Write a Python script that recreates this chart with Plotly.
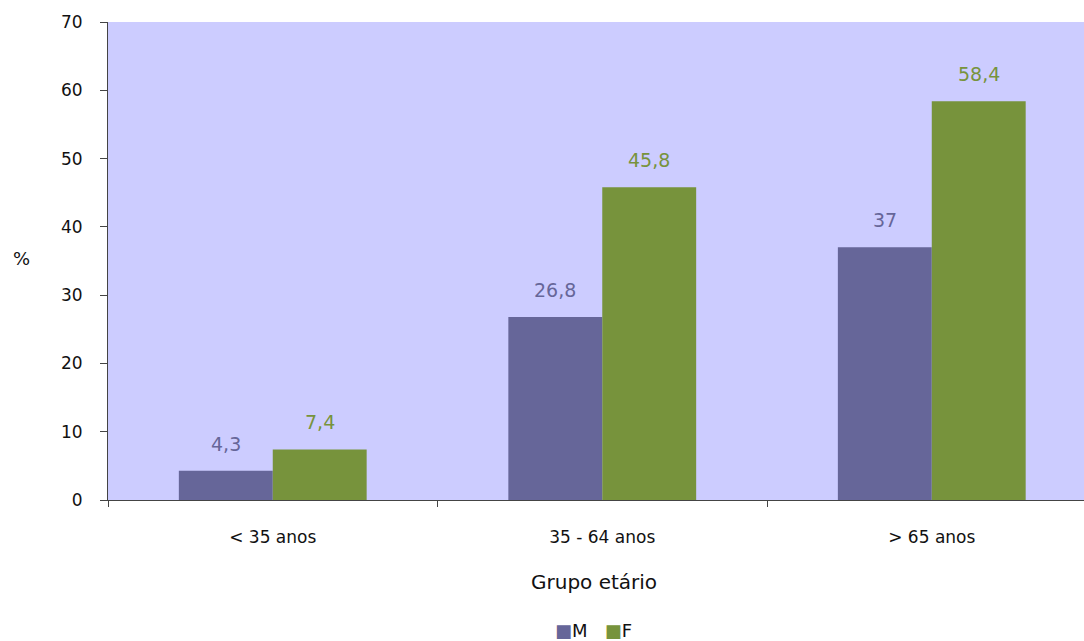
import plotly.graph_objects as go

# Age groups and prevalence (%) by sex
grupos = ["< 35 anos", "35 - 64 anos", "> 65 anos"]
valores_m = [4.3, 26.8, 37.0]
valores_f = [7.4, 45.8, 58.4]
rotulos_m = ["4,3", "26,8", "37"]
rotulos_f = ["7,4", "45,8", "58,4"]
y_ticks = [0, 10, 20, 30, 40, 50, 60, 70]

COR_M = "#666699"
COR_F = "#77933C"
FONTE = "'DejaVu Sans', sans-serif"
TEXTO = "#111111"

fig = go.Figure()
fig.add_trace(go.Bar(x=grupos, y=valores_m, name="M", marker_color=COR_M,
                     marker_line_width=0))
fig.add_trace(go.Bar(x=grupos, y=valores_f, name="F", marker_color=COR_F,
                     marker_line_width=0))

# value labels above each bar
for i, g in enumerate(grupos):
    for val, txt, cor, off in ((valores_m[i], rotulos_m[i], COR_M, -0.143),
                               (valores_f[i], rotulos_f[i], COR_F, 0.143)):
        fig.add_annotation(x=i + off, y=val, text=txt, showarrow=False,
                           xref="x", yref="y", yanchor="bottom", yshift=14,
                           font=dict(size=19, color=cor, family=FONTE))

# y-axis title, drawn horizontally
fig.add_annotation(x=-0.0885, y=0.505, xref="paper", yref="paper", text="%",
                   showarrow=False, xanchor="center", yanchor="middle",
                   font=dict(size=18, color=TEXTO, family=FONTE))
# x-axis title
fig.add_annotation(x=0.4975, y=-0.172, xref="paper", yref="paper",
                   text="Grupo etário", showarrow=False, xanchor="center",
                   yanchor="middle", font=dict(size=20, color=TEXTO, family=FONTE))

# compact legend row below the axis title
legenda = (f"<span style='color:{COR_M};font-size:18px'>■</span>M"
           f"&nbsp;&nbsp;&nbsp;"
           f"<span style='color:{COR_F};font-size:18px'>■</span>F")
fig.add_annotation(x=0.497, y=-0.274, xref="paper", yref="paper", text=legenda,
                   showarrow=False, xanchor="center", yanchor="middle",
                   font=dict(size=18, color=TEXTO, family=FONTE))

fig.update_layout(
    width=1084, height=641,
    margin=dict(l=108, r=0, t=22, b=141, autoexpand=False),
    paper_bgcolor="white",
    plot_bgcolor="#CCCCFF",
    barmode="group",
    bargap=0.43,
    bargroupgap=0,
    font=dict(family=FONTE, color=TEXTO),
    showlegend=False,
)
fig.update_xaxes(
    range=[-0.5, 2.462],
    showline=True, linecolor="#444444", linewidth=1,
    ticks="outside", tickson="boundaries", ticklen=6, tickcolor="#444444",
    ticklabelstandoff=22,
    tickfont=dict(size=17, color=TEXTO),
    showgrid=False, zeroline=False,
)
fig.update_yaxes(
    range=[0, 70], tickvals=y_ticks,
    showline=True, linecolor="#444444", linewidth=1,
    ticks="outside", ticklen=7, tickcolor="#444444",
    ticklabelstandoff=14,
    tickfont=dict(size=17, color=TEXTO),
    showgrid=False, zeroline=False,
)

fig.write_html("out.html")
